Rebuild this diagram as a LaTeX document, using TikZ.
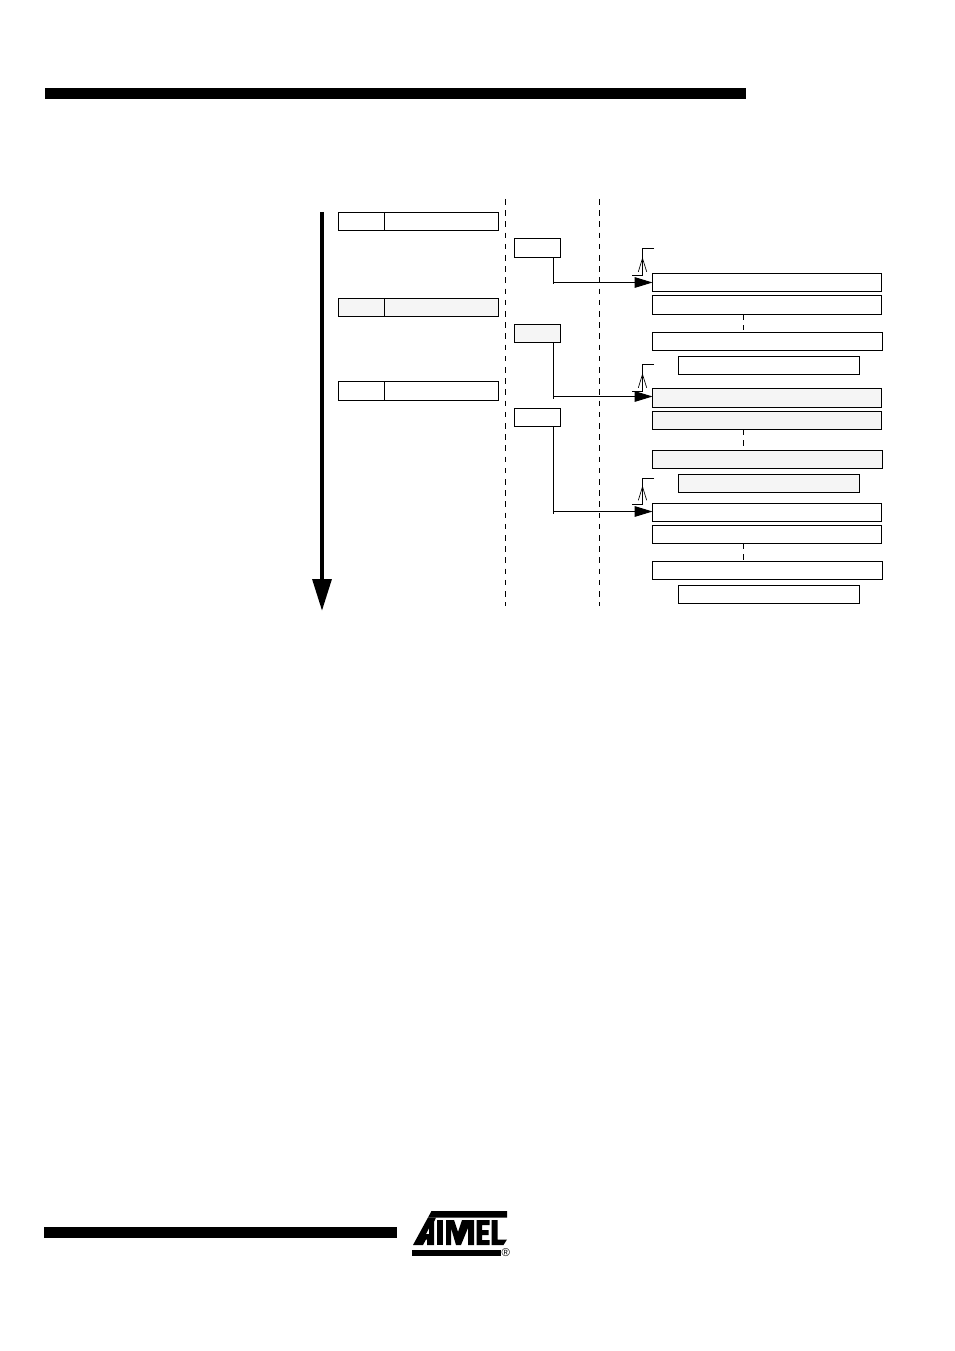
\documentclass[tikz,border=0pt]{standalone}
\usepackage{fontspec}
\setmainfont{Liberation Sans}
\usetikzlibrary{arrows.meta}
\definecolor{shade}{HTML}{F5F5F5}
\tikzset{
  plainbox/.style={draw=black,line width=0.75pt,fill=white,inner sep=0pt,outer sep=0pt,rectangle},
  shadedbox/.style={plainbox,fill=shade},
  dashline/.style={line width=0.75pt,dash pattern=on 4.2pt off 4.2pt},
  shortdash/.style={line width=0.75pt,dash pattern=on 4pt off 4pt},
  conn/.style={line width=0.75pt},
  arrowconn/.style={line width=0.75pt,-{Triangle[length=13.5pt,width=8pt]}},
  timearrow/.style={line width=3.2pt,-{Triangle[length=24pt,width=14pt]}},
  chevron/.style={line width=0.5pt},
  bar/.style={fill=black,draw=none}
}
% \boxat{style}{name}{x1}{y1}{x2}{y2}, in reference pixels
\newcommand{\boxat}[6]{%
  \pgfmathsetmacro{\bxw}{(#5-#3)*0.75}%
  \pgfmathsetmacro{\bxh}{(#6-#4)*0.75}%
  \node[#1,minimum width=\bxw pt,minimum height=\bxh pt] (#2) at ({(#3+#5)/2},{(#4+#6)/2}) {};}
\begin{document}
\begin{tikzpicture}[x=0.75pt,y=-0.75pt]
\useasboundingbox (0,0) rectangle (954,1351);
\path[bar] (45,88) rectangle (746,99);
\path[bar] (44,1227) rectangle (396.5,1238);
% time arrow
\coordinate (ts) at (322,212);
\coordinate (te) at (322,611);
\draw[timearrow] (ts) -- (te);
% pipeline separators
\coordinate (d1a) at (505.5,199); \coordinate (d1b) at (505.5,606);
\coordinate (d2a) at (599.5,199); \coordinate (d2b) at (599.5,606);
\draw[dashline] (d1a) -- (d1b);
\draw[dashline] (d2a) -- (d2b);
% fetch boxes
\boxat{plainbox}{f1a}{338.5}{212.5}{384.5}{230.5}
\boxat{plainbox}{f1b}{384.5}{212.5}{498.5}{230.5}
\boxat{shadedbox}{f2a}{338.5}{298.5}{384.5}{316.5}
\boxat{shadedbox}{f2b}{384.5}{298.5}{498.5}{316.5}
\boxat{plainbox}{f3a}{338.5}{381.5}{384.5}{400.5}
\boxat{plainbox}{f3b}{384.5}{381.5}{498.5}{400.5}
% execute boxes
\boxat{plainbox}{e1}{514.5}{238.5}{560.5}{257.5}
\boxat{shadedbox}{e2}{514.5}{324.5}{560.5}{342.5}
\boxat{plainbox}{e3}{514.5}{408.5}{560.5}{426.5}
% right boxes group 1
\boxat{plainbox}{r1}{652.5}{273.5}{881.5}{291.5}
\boxat{plainbox}{r2}{652.5}{295.5}{881.5}{314.5}
\boxat{plainbox}{r3}{652.5}{332.5}{882.5}{350.5}
\boxat{plainbox}{r4}{678.5}{356.5}{859.5}{374.5}
% group 2
\boxat{shadedbox}{s1}{652.5}{388.5}{881.5}{407.5}
\boxat{shadedbox}{s2}{652.5}{411.5}{881.5}{429.5}
\boxat{shadedbox}{s3}{652.5}{450.5}{882.5}{468.5}
\boxat{shadedbox}{s4}{678.5}{474.5}{859.5}{492.5}
% group 3
\boxat{plainbox}{t1}{652.5}{503.5}{881.5}{521.5}
\boxat{plainbox}{t2}{652.5}{525.5}{881.5}{543.5}
\boxat{plainbox}{t3}{652.5}{561.5}{882.5}{579.5}
\boxat{plainbox}{t4}{678.5}{585.5}{859.5}{603.5}
% dashed links
\draw[shortdash] (743.5,314.5) -- (743.5,332.5);
\draw[shortdash] (743.5,429.5) -- (743.5,450.5);
\draw[shortdash] (743.5,543.5) -- (743.5,561.5);
% connectors
\coordinate (a1) at (553.5,284.5); \coordinate (b1) at (553.5,282.5); \coordinate (c1) at (652.5,282.5);
\coordinate (a2) at (553.5,398.5); \coordinate (b2) at (553.5,396.5); \coordinate (c2) at (652.5,396.5);
\coordinate (a3) at (553.5,513.5); \coordinate (b3) at (553.5,511.5); \coordinate (c3) at (652.5,511.5);
\draw[conn] (e1.south -| b1) -- (a1);
\draw[arrowconn] (b1) -- (c1);
\draw[conn] (e2.south -| b2) -- (a2);
\draw[arrowconn] (b2) -- (c2);
\draw[conn] (e3.south -| b3) -- (a3);
\draw[arrowconn] (b3) -- (c3);
% small markers
\foreach \n/\y/\h/\ap/\lg in {m1/248.3/27/10/23.5, m2/364.3/27/10/23.5, m3/478.3/26.5/8.4/22}{
  \coordinate (\n a) at (654,\y);
  \coordinate (\n b) at (642.5,\y);
  \coordinate (\n c) at (642.5,\y+\h);
  \coordinate (\n d) at (632,\y+\h);
  \draw[conn] (\n a) -- (\n b) -- (\n c) -- (\n d);
  \coordinate (\n e) at (638.3,\y+\lg);
  \coordinate (\n f) at (642.5,\y+\ap);
  \coordinate (\n g) at (646.7,\y+\lg);
  \draw[chevron] (\n e) -- (\n f) -- (\n g);
}
% logo
\path[bar] (412,1250) rectangle (501,1256);
\path[bar] (431.5,1211) -- (507,1211) -- (507,1217.5) -- (428,1217.5) -- cycle;
\path[bar,even odd rule] (428,1217.5) -- (413,1245) -- (423,1245) -- (426,1239.5) -- (427,1239.5) -- (427,1245) -- (434,1245) -- (434,1222) -- (436,1217.5) -- cycle
   (426,1234) -- (429,1234) -- (429,1228) -- cycle;
\path[bar] (437,1220) rectangle (443,1245);
\path[bar] (446,1220) -- (454,1220) -- (458,1232) -- (462,1220) -- (474,1220) -- (474,1245) -- (468,1245) -- (468,1228) -- (461,1245) -- (456,1245) -- (451,1228) -- (451,1245) -- (446,1245) -- cycle;
\path[bar] (476.5,1220) -- (489.5,1220) -- (489.5,1225) -- (482,1225) -- (482,1230) -- (488.5,1230) -- (488.5,1235) -- (482,1235) -- (482,1240) -- (489.5,1240) -- (489.5,1245) -- (476.5,1245) -- cycle;
\path[bar] (491.7,1220) -- (497.5,1220) -- (497.5,1239.5) -- (507,1239.5) -- (503.5,1245) -- (491.7,1245) -- cycle;
\node[inner sep=0pt,font=\fontsize{8.5}{8.5}\selectfont] (reg) at (505.7,1252.7) {®};
\end{tikzpicture}
\end{document}
